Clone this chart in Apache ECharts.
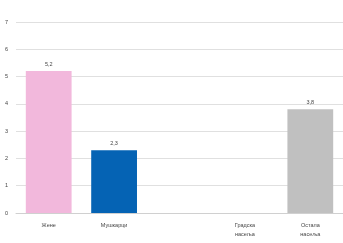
<!DOCTYPE html>
<html>
<head>
<meta charset="utf-8">
<script src="https://cdn.jsdelivr.net/npm/echarts@6/dist/echarts.min.js"></script>
<style>
  html, body { margin: 0; padding: 0; background: #fff; }
  #chart { width: 343px; height: 243px; }
</style>
</head>
<body>
<div id="chart"></div>
<script>
// категорије (празна пета колона држи размак)
const categories = ["Жене", "Мушкарци", "", "Градска\nнасеља", "Остала\nнасеља"];
const values = [5.2, 2.3, 0, 0, 3.8];
const colors = ["#f2b8dc", "#0563b4", "#ffffff", "#c0c0c0", "#c0c0c0"];
const yTicks = [0, 1, 2, 3, 4, 5, 6, 7];

const chart = echarts.init(document.getElementById("chart"));

const option = {
  animation: false,
  grid: { left: 16, top: 22, width: 330, height: 191, containLabel: false },
  xAxis: {
    type: "category",
    data: categories,
    axisTick: { show: false },
    axisLine: { lineStyle: { color: "#d0d0d0" } },
    axisLabel: {
      color: "#444",
      fontSize: 5.5,
      fontFamily: "Liberation Sans",
      interval: 0,
      margin: 8,
      lineHeight: 9
    }
  },
  yAxis: {
    type: "value",
    min: yTicks[0],
    max: yTicks[yTicks.length - 1],
    interval: 1,
    axisLine: { show: false },
    axisTick: { show: false },
    axisLabel: { color: "#444", fontSize: 5.5, fontFamily: "Liberation Sans", margin: 8 },
    splitLine: { lineStyle: { color: "#e0e0e0" } }
  },
  series: [
    {
      type: "bar",
      barWidth: "70%",
      data: values.map((v, i) => ({ value: v, itemStyle: { color: colors[i] } })),
      label: {
        show: true,
        position: "top",
        distance: 4,
        color: "#444",
        fontSize: 5.5,
        fontFamily: "Liberation Sans",
        formatter: p => (p.value ? String(p.value).replace(".", ",") : "")
      }
    }
  ]
};

chart.setOption(option);
</script>
</body>
</html>
